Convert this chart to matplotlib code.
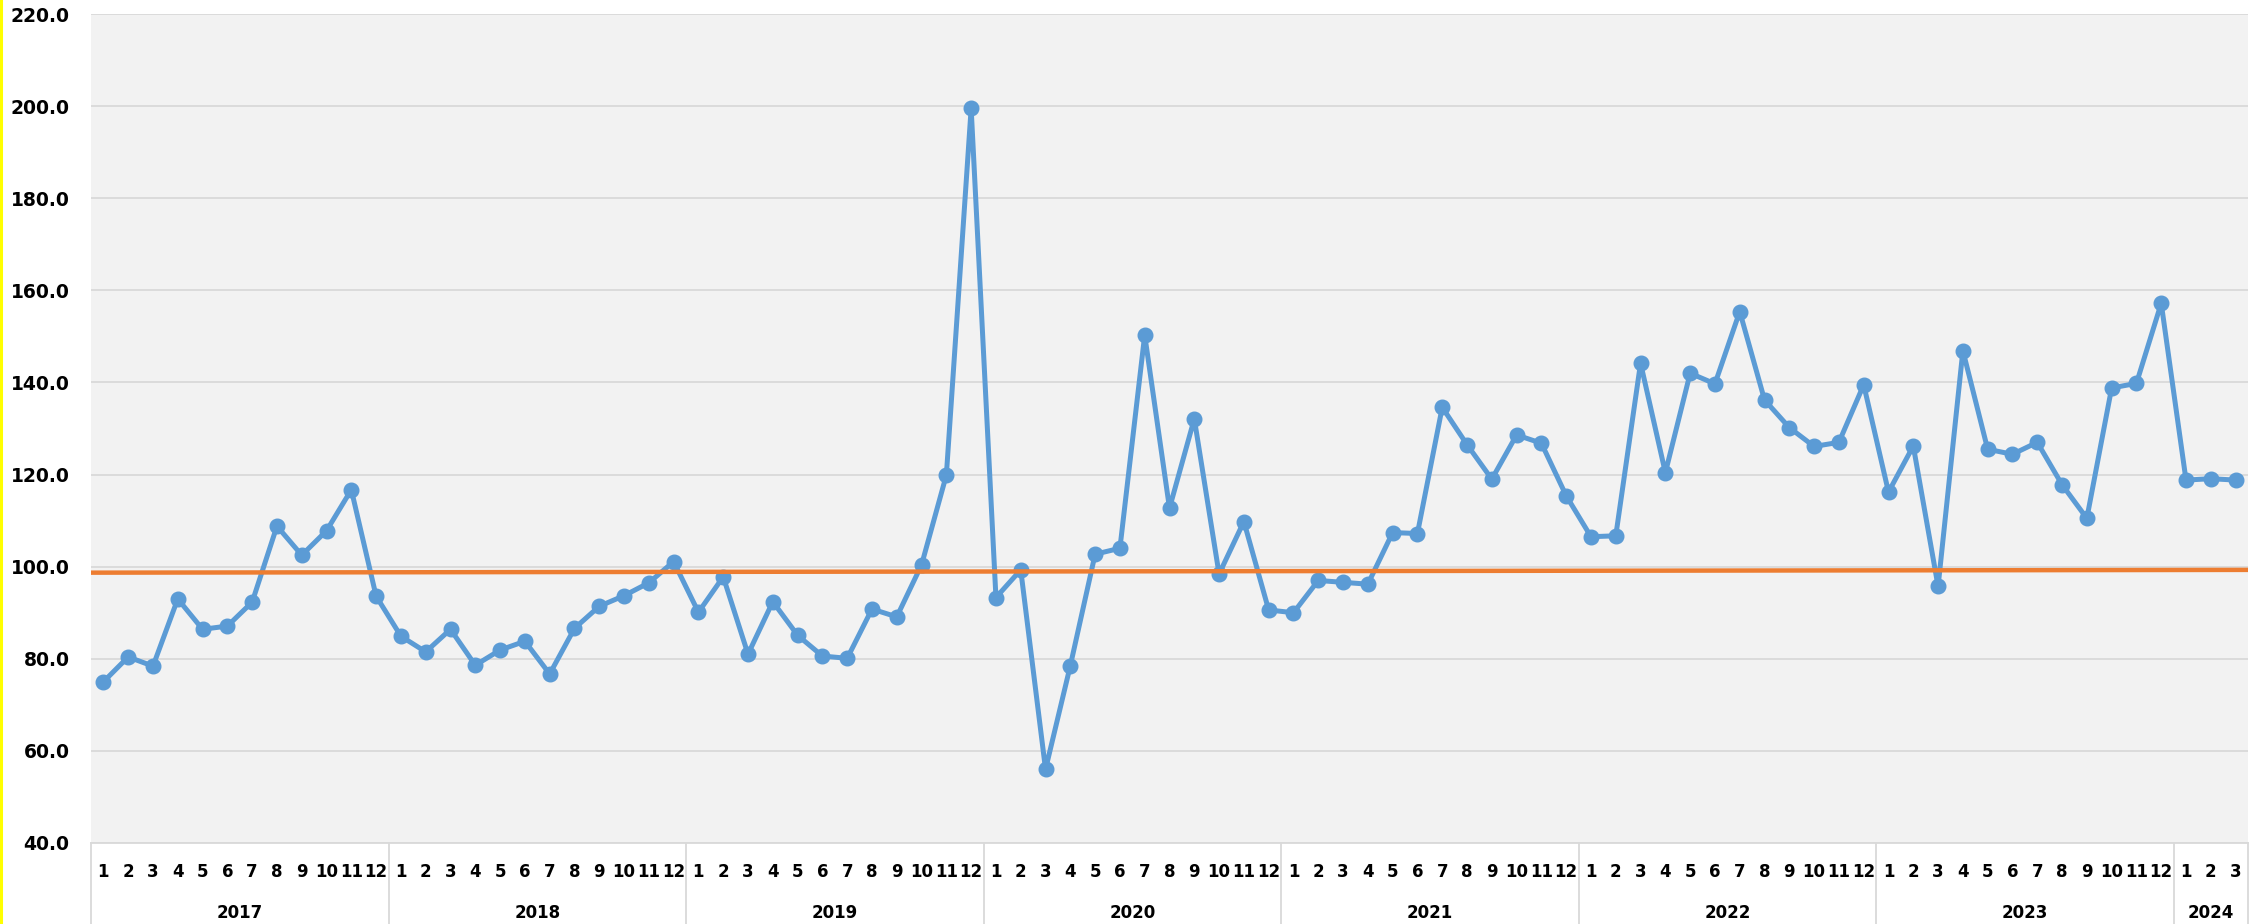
import matplotlib.pyplot as plt
import numpy as np
from matplotlib.lines import Line2D

# Помесячные значения индекса, январь 2017 - март 2024
years = ['2017', '2018', '2019', '2020', '2021', '2022', '2023', '2024']
months_in_year = [12, 12, 12, 12, 12, 12, 12, 3]

values = [
    # 2017
    75.0, 80.4, 78.4, 93.0, 86.4, 87.1, 92.3, 108.8, 102.5, 107.8, 116.7, 93.6,
    # 2018
    84.9, 81.5, 86.4, 78.6, 81.9, 83.8, 76.7, 86.6, 91.4, 93.7, 96.5, 101.1,
    # 2019
    90.1, 97.8, 81.0, 92.4, 85.1, 80.6, 80.1, 90.8, 89.1, 100.4, 119.9, 199.5,
    # 2020
    93.3, 99.3, 56.0, 78.5, 102.7, 104.0, 150.3, 112.7, 132.1, 98.4, 109.8, 90.6,
    # 2021
    90.0, 97.0, 96.6, 96.2, 107.4, 107.2, 134.6, 126.5, 119.0, 128.6, 126.8, 115.4,
    # 2022
    106.5, 106.7, 144.2, 120.4, 142.0, 139.7, 155.4, 136.2, 130.2, 126.1, 127.0, 139.5,
    # 2023
    116.2, 126.2, 95.7, 146.9, 125.5, 124.4, 127.0, 117.8, 110.5, 138.8, 139.8, 157.2,
    # 2024
    118.8, 119.1, 118.8,
]

# Линия тренда: значения на левом и правом краю
trend_start = 98.7
trend_end = 99.3

y_ticks = [40, 60, 80, 100, 120, 140, 160, 180, 200, 220]

month_labels = []
for n in months_in_year:
    month_labels += [str(m) for m in range(1, n + 1)]

n = len(values)
x = np.arange(n)

plt.rcParams['font.family'] = 'DejaVu Sans'

fig = plt.figure(figsize=(22.67, 9.24), dpi=100)
ax = fig.add_axes([91 / 2267, 1 - 843 / 924, (2248 - 91) / 2267, (843 - 14) / 924])
ax.set_facecolor('#f2f2f2')

ax.set_xlim(-0.5, n - 0.5)
ax.set_ylim(40, 220)
ax.set_yticks(y_ticks)
ax.set_yticklabels([f'{v:.1f}' for v in y_ticks], fontsize=13.5, fontweight='bold')
ax.tick_params(axis='y', length=0, pad=15.5)
ax.grid(axis='y', color='#d9d9d9', linewidth=1.3)
ax.set_axisbelow(True)

for s in ['top', 'right', 'left']:
    ax.spines[s].set_visible(False)
ax.spines['bottom'].set_color('#d9d9d9')
ax.spines['bottom'].set_linewidth(1.3)

# основной ряд
ax.plot(x, values, color='#5b9bd5', linewidth=3.6, marker='o', markersize=10.5,
        zorder=3, clip_on=False)
# тренд
ax.plot([-0.5, n - 0.5], [trend_start, trend_end], color='#ed7d31', linewidth=3.2,
        zorder=4)

# подписи месяцев и годов под осью
ax.set_xticks([])
trans = ax.get_xaxis_transform()
for i, lab in enumerate(month_labels):
    ax.text(i, -0.035, lab, transform=trans, ha='center', va='center',
            fontsize=12, fontweight='bold')

start = 0
bounds = [-0.5]
for yr, cnt in zip(years, months_in_year):
    center = start + (cnt - 1) / 2
    ax.text(center, -0.084, yr, transform=trans, ha='center', va='center',
            fontsize=12, fontweight='bold')
    start += cnt
    bounds.append(start - 0.5)

for b in bounds:
    ax.plot([b, b], [0, -0.12], transform=trans, color='#d9d9d9', linewidth=1.3,
            clip_on=False)

# жёлтая полоса по левому краю
fig.add_artist(Line2D([0.0006, 0.0006], [0, 1], transform=fig.transFigure,
                      color='#ffff00', linewidth=2.2))

plt.savefig('out.png', dpi=100)
